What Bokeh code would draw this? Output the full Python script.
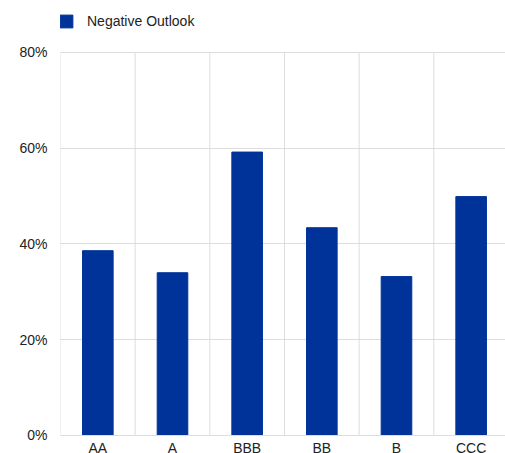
from bokeh.plotting import figure
from bokeh.models import Range1d, FixedTicker, NumeralTickFormatter, Legend, LegendItem, ColumnDataSource
from bokeh.embed import file_html
from bokeh.resources import INLINE

categories = ["AA", "A", "BBB", "BB", "B", "CCC"]
negative_outlook = [0.386, 0.340, 0.592, 0.434, 0.332, 0.499]
y_ticks = [0, 0.2, 0.4, 0.6, 0.8]
series_name = "Negative Outlook"

FONT = "Liberation Sans"
BAR = "#003399"
GRID = "#dddddd"
TXT = "#222222"

n = len(categories)
xs = [i + 0.5 for i in range(n)]
bounds = list(range(n + 1))
src = ColumnDataSource(dict(x=xs, top=negative_outlook))

# frame covers the whole canvas right of the y axis; the value axis runs
# from 0 (y=435px) to 80% (y=52px); extra room above for the legend and
# below for the category labels
p = figure(width=505, height=453, output_backend="svg", toolbar_location=None,
           x_range=Range1d(0, 5.96), y_range=Range1d(-0.0376, 0.9086))
p.min_border_left = 60
p.min_border_right = 0
p.min_border_top = 0
p.min_border_bottom = 0
p.outline_line_color = None

p.xgrid.visible = False
p.ygrid.grid_line_color = GRID
p.ygrid.ticker = FixedTicker(ticks=y_ticks)
p.segment(x0=bounds, y0=[y_ticks[0]] * len(bounds), x1=bounds, y1=[y_ticks[-1]] * len(bounds),
          line_color=GRID, line_width=1)

r = p.vbar(x="x", top="top", width=0.41, bottom=0, source=src, color=BAR)

p.xaxis.fixed_location = 0
p.xaxis.ticker = FixedTicker(ticks=xs)
p.xaxis.major_label_overrides = {x: c for x, c in zip(xs, categories)}
p.xaxis.major_tick_line_color = None
p.xaxis.minor_tick_line_color = None
p.xaxis.major_tick_out = 0
p.xaxis.major_tick_in = 0
p.xaxis.axis_line_color = GRID
p.xaxis.major_label_standoff = 5
p.xaxis.major_label_text_font = FONT
p.xaxis.major_label_text_font_size = "14px"
p.xaxis.major_label_text_color = TXT

p.yaxis.ticker = FixedTicker(ticks=y_ticks)
p.yaxis.formatter = NumeralTickFormatter(format="0%")
p.yaxis.axis_line_color = None
p.yaxis.major_tick_line_color = None
p.yaxis.minor_tick_line_color = None
p.yaxis.major_tick_out = 0
p.yaxis.major_tick_in = 0
p.yaxis.major_label_standoff = 13
p.yaxis.major_label_text_font = FONT
p.yaxis.major_label_text_font_size = "14px"
p.yaxis.major_label_text_color = TXT

legend = Legend(items=[LegendItem(label=series_name, renderers=[r])],
                location=(-2, 424), orientation="horizontal",
                glyph_width=16, glyph_height=16, label_standoff=13,
                padding=0, margin=0, border_line_color=None,
                label_text_font=FONT, label_text_font_size="14px",
                label_text_color=TXT, background_fill_alpha=0)
p.add_layout(legend)

open("out.html", "w").write(file_html(p, INLINE))
